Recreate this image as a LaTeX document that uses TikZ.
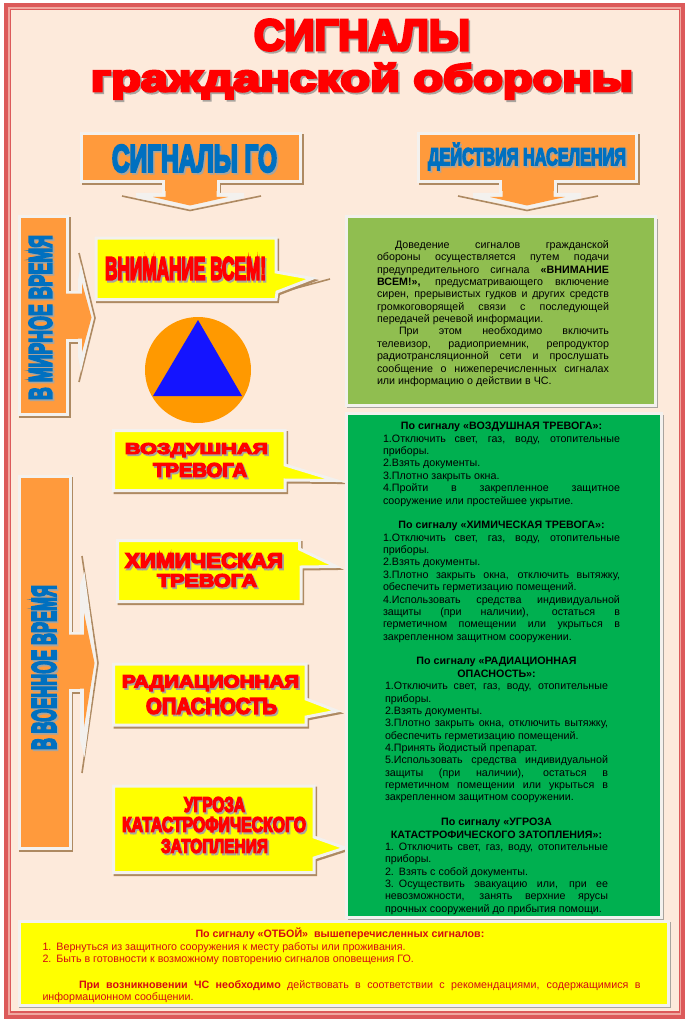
\documentclass[tikz,border=0pt]{standalone}
\usepackage{fontspec}
\usepackage{graphicx}
\setmainfont{Liberation Sans}
\newfontfamily\wafont[FakeBold=6.5]{Liberation Sans Bold}
\definecolor{bgcol}{HTML}{FDEADB}
\definecolor{bandred}{HTML}{DC5A5A}
\definecolor{bandpale}{HTML}{F0A8A0}
\definecolor{orng}{HTML}{FF9A3C}
\definecolor{shbrown}{HTML}{AE8A62}
\definecolor{shgray}{HTML}{A8A49E}
\definecolor{outl}{HTML}{F3F1EE}
\definecolor{wablue}{HTML}{0070C0}
\definecolor{lgreen}{HTML}{90BE50}
\definecolor{dgreen}{HTML}{00B050}
\definecolor{yel}{HTML}{FFFF00}
\definecolor{botred}{HTML}{D40A14}
\tikzset{
  x=1pt,y=-1pt,
  shapeshadow/.style={fill=shbrown,draw=shbrown,line width=3pt,miter limit=30,shift={(1.5,2)}},
  shapebody/.style={fill=#1,draw=outl,line width=3pt,miter limit=30},
  headshadow/.style={draw=shbrown,line width=1.6pt,miter limit=30},
  headpale/.style={fill=outl},
  headfill/.style={fill=orng},
  waword/.style={inner sep=0pt,outer sep=0pt},
  bodytext/.style={inner sep=0pt,outer sep=0pt,anchor=north west,align=left}
}
% shape with shadow and pale outline
\newcommand\ShapeBox[2]{%
  \path[shapeshadow] #2;
  \path[shapebody=#1] #2;}
% word-art text: name, cx, cy, width, height, colour, angle, text
\newcommand\WordArt[8]{%
  \node[waword,text=shgray,rotate=#7] (#1-s) at (#2+1.6,#3+1.8) {\resizebox*{#4pt}{#5pt}{\wafont #8}};
  \node[waword,text=#6,rotate=#7] (#1) at (#2,#3) {\resizebox*{#4pt}{#5pt}{\wafont #8}};}
\def\myJ#1{\par\hbox to \hsize{#1}}
\def\myL#1{\par\hbox{#1}}
\def\myC#1{\par\hbox to \hsize{\spaceskip=0pt\hfil #1\hfil}}
\def\myB{\par\vskip\baselineskip}
% narrower measure of the lower two signal sections
\def\myJn#1{\par\hbox{\hskip2pt\hbox to 223pt{#1}}}
\def\myLn#1{\par\hbox{\hskip2pt #1}}
\def\myCn#1{\par\hbox{\hskip2pt\hbox to 223pt{\spaceskip=0pt\hfil #1\hfil}}}
\begin{document}
\begin{tikzpicture}
\useasboundingbox (0,0) rectangle (689,1024);
\fill[white] (0,0) rectangle (689,1024);
\fill[bandred] (4,3) rectangle (685,1019);
\fill[bandpale] (8,7) rectangle (681,1014.5);
\fill[bandred] (9.5,9) rectangle (680,1013);
\fill[bgcol] (11,10.5) rectangle (679,1011);

% titles
\WordArt{t1}{362}{35}{216}{31}{red}{0}{СИГНАЛЫ}
\WordArt{t2}{362}{81}{542}{36}{red}{0}{гражданской обороны}

% header arrows
\draw[headshadow] (122,196) -- (190,210.5) -- (261,196);
\ShapeBox{orng}{(81.5,134) -- (300.5,134) -- (300.5,182) -- (218,182) -- (218,193) -- (163.5,193) -- (163.5,182) -- (81.5,182) -- cycle}
\path[headpale] (136,193) -- (244,193) -- (244,198) -- (190,208.5) -- (136,198) -- cycle;
\path[headfill] (165.5,180) -- (216.5,180) -- (216.5,197) -- (228,197) -- (190,205.5) -- (153,197) -- (165.5,197) -- cycle;
\draw[headshadow] (458,196) -- (527,210.5) -- (598,196);
\ShapeBox{orng}{(418.5,134) -- (636.5,134) -- (636.5,182) -- (555,182) -- (555,193) -- (500.5,193) -- (500.5,182) -- (418.5,182) -- cycle}
\path[headpale] (473,193) -- (581,193) -- (581,198) -- (527,208.5) -- (473,198) -- cycle;
\path[headfill] (502.5,180) -- (553.5,180) -- (553.5,197) -- (565,197) -- (527,205.5) -- (490,197) -- (502.5,197) -- cycle;
\WordArt{h1}{194.5}{158.5}{165}{27}{wablue}{0}{СИГНАЛЫ ГО}
\WordArt{h2}{527}{156.5}{198}{27}{wablue}{0}{ДЕЙСТВИЯ НАСЕЛЕНИЯ}

% side arrows
\draw[headshadow] (79,253) -- (95,318) -- (79,382);
\ShapeBox{orng}{(19,216.5) -- (67.5,216.5) -- (67.5,292) -- (80,292) -- (80,340) -- (67.5,340) -- (67.5,414.5) -- (19,414.5) -- cycle}
\path[headpale] (78,280) -- (81,264) -- (93.5,318) -- (81,372) -- (78,356) -- cycle;
\path[headfill] (66,293.5) -- (82,293.5) -- (82,283) -- (91.5,317.5) -- (82,352) -- (82,338.5) -- (66,338.5) -- cycle;
\WordArt{s1}{40.5}{317.5}{165}{23}{wablue}{90}{В МИРНОЕ ВРЕМЯ}
\draw[headshadow] (82,556) -- (98,663) -- (82,773);
\ShapeBox{orng}{(19,476) -- (70,476) -- (70,633) -- (82,633) -- (82,690) -- (70,690) -- (70,848.5) -- (19,848.5) -- cycle}
\path[headpale] (80,585) -- (84.5,572) -- (96.5,663) -- (84.5,757) -- (80,740) -- cycle;
\path[headfill] (68.5,634.5) -- (84,634.5) -- (84,613) -- (94.5,663) -- (84,727) -- (84,688.5) -- (68.5,688.5) -- cycle;
\WordArt{s2}{44}{667.5}{165}{24}{wablue}{90}{В ВОЕННОЕ ВРЕМЯ}

% signal callouts
\draw[headshadow] (278,293) -- (330,279);
\ShapeBox{yel}{(96,238) -- (276,238) -- (276,272) -- (312,278.5) -- (277,292) -- (276,299.5) -- (96,299.5) -- cycle}
\WordArt{c1}{185.5}{268.5}{161}{23}{red}{0}{ВНИМАНИЕ ВСЕМ!}

\ShapeBox{yel}{(113.5,430.5) -- (285,430.5) -- (285,465) -- (336,480.5) -- (285,480) -- (285,490.5) -- (113.5,490.5) -- cycle}
\WordArt{c2a}{196.5}{450}{143}{14}{red}{0}{ВОЗДУШНАЯ}
\WordArt{c2b}{200}{470}{94}{14}{red}{0}{ТРЕВОГА}

\ShapeBox{yel}{(117.5,540.5) -- (299.5,540.5) -- (299.5,549) -- (336,566.5) -- (301,567) -- (301,601.5) -- (117.5,601.5) -- cycle}
\WordArt{c3a}{204}{560.5}{158}{15}{red}{0}{ХИМИЧЕСКАЯ}
\WordArt{c3b}{207}{580.5}{100}{13}{red}{0}{ТРЕВОГА}

\ShapeBox{yel}{(113.5,664) -- (306,664) -- (306,699) -- (337,711) -- (306,717) -- (306,725) -- (113.5,725) -- cycle}
\WordArt{c4a}{210.5}{683}{177}{16}{red}{0}{РАДИАЦИОННАЯ}
\WordArt{c4b}{211.5}{706}{131}{16}{red}{0}{ОПАСНОСТЬ}

\ShapeBox{yel}{(113.5,786) -- (314,786) -- (314,837) -- (345,848) -- (314,858) -- (314,872.5) -- (113.5,872.5) -- cycle}
\WordArt{c5a}{214.5}{804.5}{61}{15}{red}{0}{УГРОЗА}
\WordArt{c5b}{214}{824.5}{184}{15}{red}{0}{КАТАСТРОФИЧЕСКОГО}
\WordArt{c5c}{214.5}{846}{107}{14}{red}{0}{ЗАТОПЛЕНИЯ}

% emblem
\node[circle,fill={rgb,255:red,255;green,153;blue,0},minimum size=106pt,inner sep=0pt] (emblem) at (198,370) {};
\fill[fill={rgb,255:red,20;green,20;blue,255}] (198,320) -- (242,396) -- (153,396) -- cycle;

% light green box
\path[fill=shgray] (347,219) rectangle (658,408);
\path[fill=lgreen,draw=outl,line width=3pt] (346.5,216.5) rectangle (655.5,405.5);
\node[bodytext,text width=232pt] (peace) at (377,235.8) {%
  \fontsize{10.7}{12.4}\selectfont\baselineskip=12.4pt\spaceskip=.278em plus 1fil minus .08em
  \myJ{\hskip 18pt Доведение сигналов гражданской}
  \myJ{обороны осуществляется путем подачи}
  \myJ{предупредительного сигнала \textbf{«ВНИМАНИЕ}}
  \myJ{\textbf{ВСЕМ!»,} предусматривающего включение}
  \myJ{сирен, прерывистых гудков и других средств}
  \myJ{громкоговорящей связи с последующей}
  \myL{передачей речевой информации.}
  \myJ{\hskip 22pt При этом необходимо включить}
  \myJ{телевизор, радиоприемник, репродуктор}
  \myJ{радиотрансляционной сети и прослушать}
  \myJ{сообщение о нижеперечисленных сигналах}
  \myL{или информацию о действии в ЧС.}
};

% dark green box
\path[fill=shgray] (348,415) rectangle (664,920);
\path[fill=dgreen,draw=outl,line width=3pt] (346.5,413) rectangle (661.5,917);
\node[bodytext,text width=237pt] (war) at (383,417.5) {%
  \fontsize{10.7}{12.37}\selectfont\baselineskip=12.37pt\spaceskip=.278em plus 1fil minus .08em
  \myC{\textbf{По сигналу «ВОЗДУШНАЯ ТРЕВОГА»:}}
  \myJ{1.Отключить свет, газ, воду, отопительные}
  \myL{приборы.}
  \myL{2.Взять документы.}
  \myL{3.Плотно закрыть окна.}
  \myJ{4.Пройти в закрепленное защитное}
  \myL{сооружение или простейшее укрытие.}
  \myB
  \myC{\textbf{По сигналу «ХИМИЧЕСКАЯ ТРЕВОГА»:}}
  \myJ{1.Отключить свет, газ, воду, отопительные}
  \myL{приборы.}
  \myL{2.Взять документы.}
  \myJ{3.Плотно закрыть окна, отключить вытяжку,}
  \myL{обеспечить герметизацию помещений.}
  \myJ{4.Использовать средства индивидуальной}
  \myJ{защиты (при наличии), остаться в}
  \myJ{герметичном помещении или укрыться в}
  \myL{закрепленном защитном сооружении.}
  \myB
  \myCn{\textbf{По сигналу «РАДИАЦИОННАЯ}}
  \myCn{\textbf{ОПАСНОСТЬ»:}}
  \myJn{1.Отключить свет, газ, воду, отопительные}
  \myLn{приборы.}
  \myLn{2.Взять документы.}
  \myJn{3.Плотно закрыть окна, отключить вытяжку,}
  \myLn{обеспечить герметизацию помещений.}
  \myLn{4.Принять йодистый препарат.}
  \myJn{5.Использовать средства индивидуальной}
  \myJn{защиты (при наличии), остаться в}
  \myJn{герметичном помещении или укрыться в}
  \myLn{закрепленном защитном сооружении.}
  \myB
  \myCn{\textbf{По сигналу «УГРОЗА}}
  \myCn{\textbf{КАТАСТРОФИЧЕСКОГО ЗАТОПЛЕНИЯ»:}}
  \myJn{1. Отключить свет, газ, воду, отопительные}
  \myLn{приборы.}
  \myLn{2. Взять с собой документы.}
  \myJn{3. Осуществить эвакуацию или, при ее}
  \myJn{невозможности, занять верхние ярусы}
  \myLn{прочных сооружений до прибытия помощи.}
};

% bottom yellow box
\path[fill=shgray] (19,922) rectangle (671,1008);
\path[fill=yel,draw=outl,line width=3pt] (19,921) rectangle (668.5,1005);
\node[bodytext,text width=598pt,text=botred] (allclear) at (42.5,925) {%
  \fontsize{10.7}{12.6}\selectfont\baselineskip=12.6pt\spaceskip=.278em plus 1fil minus .08em
  \par\hbox to \hsize{\spaceskip=0pt\hskip 153pt\textbf{По сигналу «ОТБОЙ»\ \ вышеперечисленных сигналов:}\hss}
  \myL{1. Вернуться из защитного сооружения к месту работы или проживания.}
  \myL{2. Быть в готовности к возможному повторению сигналов оповещения ГО.}
  \myB
  \myJ{\hskip 36.5pt\textbf{При возникновении ЧС необходимо} действовать в соответствии с рекомендациями, содержащимися в}
  \myL{информационном сообщении.}
};
\end{tikzpicture}
\end{document}
